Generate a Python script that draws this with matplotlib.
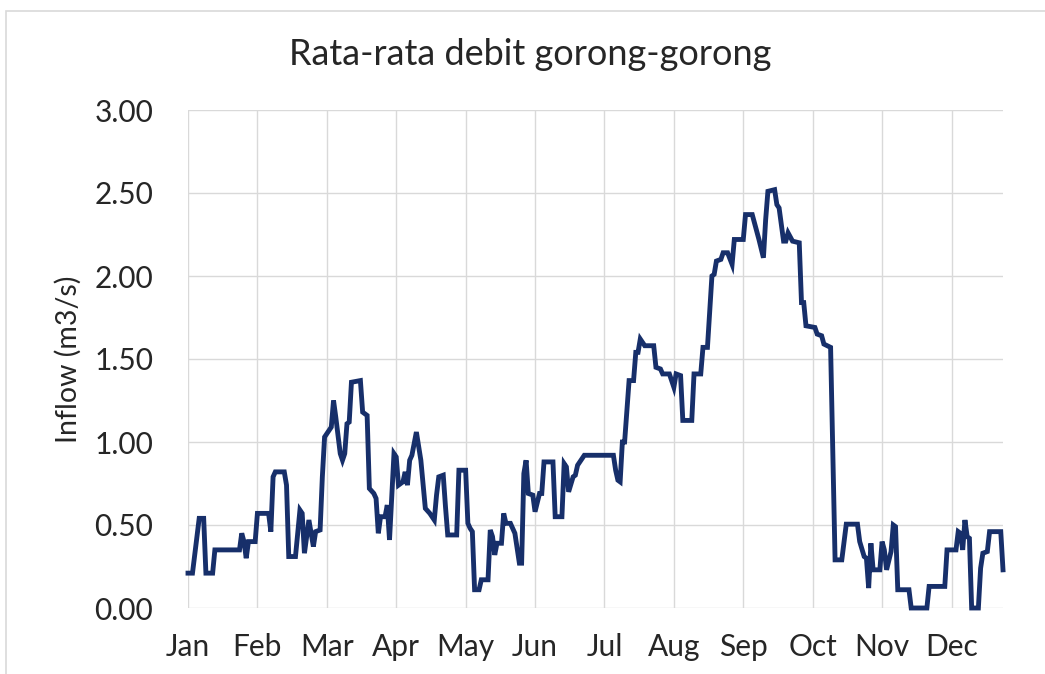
import matplotlib.pyplot as plt
from matplotlib.patches import Rectangle

# hari ke- (0 = 1 Jan) dan debit rata-rata (m3/s) pada titik-titik belok grafik
day = [0, 2, 5, 7, 8, 11, 12, 23, 24, 25, 26, 27, 30, 31, 36, 37, 38, 39, 43, 44,
       45, 48, 50, 51, 52, 54, 56, 57, 59, 60, 61, 63, 64, 65, 66, 68, 69, 70, 71, 72,
       73, 77, 78, 80, 81, 83, 84, 85, 86, 88, 89, 90, 92, 93, 94, 96, 97, 98, 99, 100,
       102, 104, 106, 108, 110, 111, 112, 114, 115, 116, 120, 121, 124, 125, 126, 127, 128, 130, 131, 134,
       135, 136, 137, 138, 140, 141, 142, 144, 146, 148, 149, 150, 151, 152, 154, 155, 157, 158, 159, 163,
       164, 167, 168, 169, 170, 172, 173, 174, 177, 190, 191, 192, 193, 194, 195, 197, 199, 200, 201, 202,
       203, 204, 208, 209, 211, 212, 215, 217, 218, 220, 221, 225, 226, 229, 230, 232, 234, 235, 236, 238,
       239, 241, 243, 244, 248, 249, 252, 255, 257, 258, 259, 262, 263, 264, 266, 267, 268, 270, 273, 274,
       275, 276, 280, 281, 283, 284, 287, 289, 292, 294, 299, 300, 302, 303, 304, 305, 306, 309, 310, 311,
       312, 314, 315, 316, 317, 322, 323, 330, 331, 338, 339, 343, 344, 345, 346, 347, 348, 349, 350, 353,
       354, 355, 357, 358, 363, 364]
inflow = [0.21, 0.21, 0.54, 0.54, 0.21, 0.21, 0.35, 0.35, 0.45, 0.40, 0.30, 0.40, 0.40, 0.57, 0.57, 0.46, 0.79, 0.82, 0.82, 0.74,
          0.31, 0.31, 0.59, 0.57, 0.33, 0.53, 0.37, 0.46, 0.47, 0.79, 1.03, 1.07, 1.09, 1.25, 1.15, 0.93, 0.89, 0.93, 1.11, 1.12,
          1.36, 1.37, 1.18, 1.16, 0.72, 0.69, 0.66, 0.45, 0.55, 0.55, 0.62, 0.41, 0.93, 0.91, 0.74, 0.76, 0.82, 0.74, 0.89, 0.92,
          1.06, 0.89, 0.60, 0.57, 0.53, 0.68, 0.79, 0.80, 0.61, 0.44, 0.44, 0.83, 0.83, 0.51, 0.48, 0.46, 0.11, 0.11, 0.17, 0.17,
          0.47, 0.43, 0.32, 0.39, 0.39, 0.57, 0.51, 0.51, 0.45, 0.27, 0.27, 0.81, 0.89, 0.69, 0.68, 0.58, 0.69, 0.69, 0.88, 0.88,
          0.55, 0.55, 0.87, 0.85, 0.70, 0.79, 0.80, 0.86, 0.92, 0.92, 0.83, 0.77, 0.76, 1.00, 1.00, 1.37, 1.37, 1.54, 1.54, 1.62,
          1.60, 1.58, 1.58, 1.45, 1.44, 1.41, 1.41, 1.33, 1.41, 1.40, 1.13, 1.13, 1.41, 1.41, 1.57, 1.57, 2.00, 2.01, 2.09, 2.10,
          2.14, 2.14, 2.07, 2.22, 2.22, 2.37, 2.37, 2.22, 2.11, 2.34, 2.51, 2.52, 2.43, 2.41, 2.21, 2.21, 2.26, 2.21, 2.20, 1.84,
          1.84, 1.70, 1.69, 1.65, 1.64, 1.59, 1.57, 0.29, 0.29, 0.505, 0.505, 0.40, 0.31, 0.30, 0.12, 0.39, 0.23, 0.23, 0.40, 0.35,
          0.23, 0.34, 0.50, 0.49, 0.11, 0.11, 0.0, 0.0, 0.13, 0.13, 0.35, 0.35, 0.46, 0.45, 0.35, 0.53, 0.43, 0.42, 0.0, 0.0,
          0.24, 0.33, 0.34, 0.46, 0.46, 0.23]

bulan = ["Jan", "Feb", "Mar", "Apr", "May", "Jun", "Jul", "Aug", "Sep", "Oct", "Nov", "Dec"]
bulan_pos = [31 * i for i in range(12)]
y_ticks = [0.0, 0.5, 1.0, 1.5, 2.0, 2.5, 3.0]

plt.rcParams['font.family'] = ['Lato', 'DejaVu Sans']
warna_teks = '#262626'
warna_grid = '#d9d9d9'

fig = plt.figure(figsize=(10.45, 6.74), dpi=100)
ax = fig.add_axes([188 / 1045, 66 / 674, 815 / 1045, 498 / 674])

ax.plot(day, inflow, color='#172f6a', lw=3.5, solid_joinstyle='miter', clip_on=False, zorder=3)

ax.set_xlim(0, 364)
ax.set_ylim(0, 3)
ax.set_xticks(bulan_pos)
ax.set_xticklabels(bulan)
ax.set_yticks(y_ticks)
ax.set_yticklabels([f"{v:.2f}" for v in y_ticks])
ax.tick_params(axis='both', length=0, labelsize=21.5, colors=warna_teks)
ax.tick_params(axis='x', pad=18)
ax.tick_params(axis='y', pad=25)
ax.grid(True, color=warna_grid, lw=1)
ax.set_axisbelow(True)
for s in ax.spines.values():
    s.set_visible(False)

ax.set_ylabel("Inflow (m3/s)", fontsize=20.5, color=warna_teks)
ax.yaxis.set_label_coords(-0.13, 0.5)

fig.text(530 / 1045, 1 - 65 / 674, "Rata-rata debit gorong-gorong", fontsize=26,
         color=warna_teks, ha='center', va='baseline')

# bingkai tipis di sekeliling area grafik
fig.patches.append(Rectangle((6 / 1045, -0.1), 1.2, 1 - 11 / 674 + 0.1, transform=fig.transFigure,
                             fill=False, edgecolor=warna_grid, lw=1.2))

plt.savefig("out.png", dpi=100)
